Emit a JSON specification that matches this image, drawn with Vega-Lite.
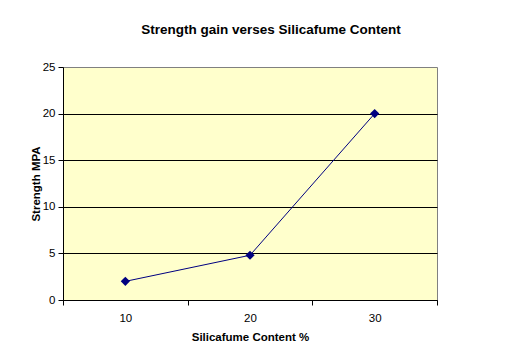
{
  "$schema": "https://vega.github.io/schema/vega-lite/v6.json",
  "autosize": "none",
  "width": 374,
  "height": 233,
  "padding": {"left": 63, "top": 67, "right": 93, "bottom": 58},
  "background": "white",
  "config": {
    "font": "Liberation Sans",
    "view": {"fill": "#FFFFCC", "stroke": "#808080", "strokeWidth": 1}
  },
  "title": {
    "text": "Strength gain verses Silicafume Content",
    "fontSize": 13.5,
    "fontWeight": "bold",
    "color": "black",
    "anchor": "middle",
    "dx": 21,
    "offset": 25
  },
  "data": {
    "values": [
      {"content": 10, "strength": 2.0},
      {"content": 20, "strength": 4.8},
      {"content": 30, "strength": 20.0}
    ]
  },
  "encoding": {
    "x": {
      "field": "content",
      "type": "quantitative",
      "scale": {"domain": [5, 35], "nice": false, "zero": false},
      "axis": {
        "title": "Silicafume Content %",
        "values": [5, 10, 15, 20, 25, 30, 35],
        "labelExpr": "datum.value % 10 == 0 ? datum.label : ''",
        "grid": false,
        "domainColor": "black",
        "tickColor": "black",
        "tickSize": 5,
        "tickOpacity": {"condition": {"test": "datum.value % 10 == 0", "value": 0}, "value": 1},
        "labelFontSize": 11.5,
        "labelColor": "black",
        "labelPadding": 7,
        "titleFontSize": 11.5,
        "titleFontWeight": "bold",
        "titleColor": "black",
        "titlePadding": 8
      }
    },
    "y": {
      "field": "strength",
      "type": "quantitative",
      "scale": {"domain": [0, 25], "nice": false},
      "axis": {
        "title": "Strength MPA",
        "values": [0, 5, 10, 15, 20, 25],
        "grid": true,
        "gridColor": "black",
        "gridOpacity": {"condition": {"test": "datum.value == 25", "value": 0}, "value": 1},
        "domainColor": "black",
        "tickColor": "black",
        "tickSize": 5,
        "labelFontSize": 11.5,
        "labelColor": "black",
        "labelPadding": 3,
        "titleFontSize": 11.5,
        "titleFontWeight": "bold",
        "titleColor": "black",
        "titlePadding": 1
      }
    }
  },
  "layer": [
    {"mark": {"type": "line", "color": "#000080", "strokeWidth": 1}},
    {"mark": {"type": "point", "shape": "diamond", "filled": true, "color": "#000080", "size": 85, "opacity": 1}}
  ]
}
